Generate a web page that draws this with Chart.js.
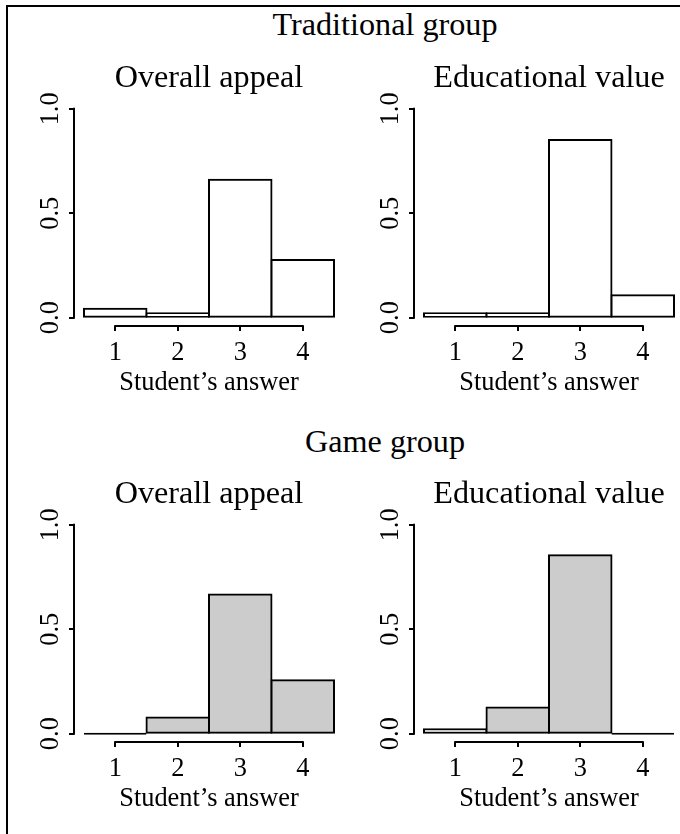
<!DOCTYPE html>
<html>
<head>
<meta charset="utf-8">
<script src="https://cdn.jsdelivr.net/npm/chart.js@4/dist/chart.umd.min.js"></script>
<style>
  html, body { margin: 0; padding: 0; background: #fff; width: 680px; height: 834px; overflow: hidden; }
  #frame { position: absolute; left: 6px; top: 5px; right: -10px; bottom: -10px;
           border-left: 2px solid #000; border-top: 2px solid #000; }
  .group { position: absolute; left: 185px; width: 400px; text-align: center; white-space: nowrap;
           font: 32.2px/1 'Liberation Serif', 'Times New Roman', serif; color: #000; }
  canvas { position: absolute; }
</style>
</head>
<body>
<div id="frame"></div>
<div class="group" style="top:8px">Traditional group</div>
<div class="group" style="top:425px">Game group</div>
<canvas id="tradAppeal" width="350" height="416" style="left:0;top:0"></canvas>
<canvas id="tradEdu" width="350" height="416" style="left:340px;top:0"></canvas>
<canvas id="gameAppeal" width="350" height="416" style="left:0;top:416px"></canvas>
<canvas id="gameEdu" width="350" height="416" style="left:340px;top:416px"></canvas>
<script>
// Answer categories (Likert 1-4) and axis ticks
const answers = [1, 2, 3, 4];
const yTicks = [0, 0.5, 1.0];
const xAxisLabel = 'Student\u2019s answer';
const titleAppeal = 'Overall appeal';
const titleEdu = 'Educational value';

// Share of students giving each answer
const traditionalAppeal = [0.043, 0.021, 0.660, 0.276];
const traditionalEducational = [0.021, 0.021, 0.851, 0.107];
const gameAppeal = [0, 0.077, 0.667, 0.256];
const gameEducational = [0.021, 0.125, 0.854, 0];

const SERIF = "'Liberation Serif', 'Times New Roman', serif";
const TITLE_SIZE = 32.2;
const LABEL_SIZE = 26.4;
Chart.defaults.color = '#000';
Chart.defaults.font.family = SERIF;

// Base-graphics style axis lines: y from first to last tick, x from first to last answer
const axisLines = {
  id: 'axisLines',
  afterDraw(chart) {
    const { ctx, chartArea, scales } = chart;
    const xs = scales.x, ys = scales.y;
    const yBottom = ys.getPixelForValue(yTicks[0]);
    const yTop = ys.getPixelForValue(yTicks[yTicks.length - 1]);
    const xLeft = xs.getPixelForValue(answers[0]);
    const xRight = xs.getPixelForValue(answers[answers.length - 1]);
    ctx.save();
    ctx.strokeStyle = '#000';
    ctx.lineWidth = 2;
    ctx.beginPath();
    ctx.moveTo(ys.right, yBottom + 1);
    ctx.lineTo(ys.right, yTop - 1);
    ctx.stroke();
    ctx.beginPath();
    ctx.moveTo(xLeft - 1, chartArea.bottom);
    ctx.lineTo(xRight + 1, chartArea.bottom);
    ctx.stroke();
    ctx.restore();
  }
};

function tickGrid() {
  return { drawOnChartArea: false, drawTicks: true, tickLength: 5, color: '#000', lineWidth: 2, offset: false };
}

function makePanel(id, title, values, fill) {
  new Chart(document.getElementById(id), {
    type: 'bar',
    data: {
      datasets: [{
        data: answers.map((a, i) => ({ x: a, y: values[i] })),
        backgroundColor: fill,
        borderColor: '#000',
        borderWidth: 2,
        borderSkipped: false,
        barPercentage: 1,
        categoryPercentage: 1,
        minBarLength: 2,
        inflateAmount: c => (c.raw && c.raw.y === 0) ? 0 : 1
      }]
    },
    options: {
      responsive: false,
      animation: false,
      devicePixelRatio: 1,
      layout: { padding: { left: 0, right: 6, top: 0, bottom: 0 } },
      plugins: {
        legend: { display: false },
        tooltip: { enabled: false },
        title: {
          display: true, text: title, fullSize: false, color: '#000',
          font: { family: SERIF, size: TITLE_SIZE, weight: 'normal', lineHeight: 1 },
          padding: { top: 62.44, bottom: 5.86 }
        }
      },
      scales: {
        x: {
          type: 'linear', position: 'bottom', min: 0.34, max: 4.66, bounds: 'data', offset: false,
          afterBuildTicks: s => { s.ticks = answers.map(v => ({ value: v })); },
          afterFit: s => { s.height = 90; },
          grid: tickGrid(),
          border: { display: false },
          ticks: {
            color: '#000', font: { family: SERIF, size: LABEL_SIZE, lineHeight: 1.2 },
            padding: 5.73, autoSkip: false, minRotation: 0, maxRotation: 0,
            callback: v => String(v)
          },
          title: {
            display: true, text: xAxisLabel, color: '#000',
            font: { family: SERIF, size: LABEL_SIZE, lineHeight: 1.2 },
            padding: { top: 0, bottom: 16.9 }
          }
        },
        y: {
          type: 'linear', position: 'left', min: -0.04, max: 1.04, bounds: 'data', offset: false,
          afterBuildTicks: s => { s.ticks = yTicks.map(v => ({ value: v })); },
          afterFit: s => { s.width = 74; },
          grid: tickGrid(),
          border: { display: false },
          ticks: {
            color: '#000', font: { family: SERIF, size: LABEL_SIZE, lineHeight: 1.2 },
            padding: 1.25, crossAlign: 'center', minRotation: 90, maxRotation: 90,
            autoSkip: false, callback: v => v.toFixed(1)
          }
        }
      }
    },
    plugins: [axisLines]
  });
}

makePanel('tradAppeal', titleAppeal, traditionalAppeal, '#ffffff');
makePanel('tradEdu', titleEdu, traditionalEducational, '#ffffff');
makePanel('gameAppeal', titleAppeal, gameAppeal, '#cccccc');
makePanel('gameEdu', titleEdu, gameEducational, '#cccccc');
</script>
</body>
</html>
